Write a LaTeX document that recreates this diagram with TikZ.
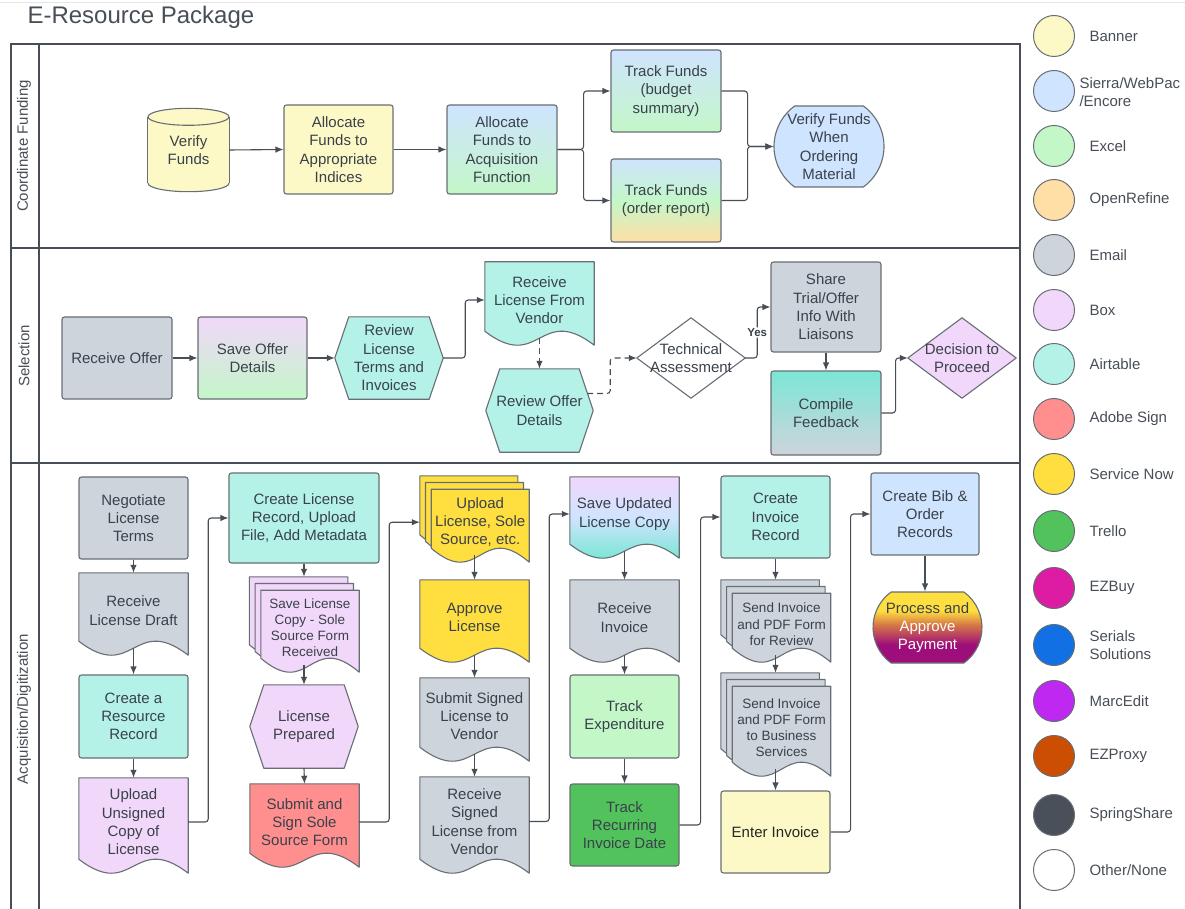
\documentclass[tikz,border=0pt]{standalone}
\usepackage{fontspec}
\setmainfont{Liberation Sans}
\usetikzlibrary{arrows.meta,calc,backgrounds,shapes.misc}

\definecolor{txt}{RGB}{58,65,74}
\definecolor{edge}{RGB}{104,110,116}
\definecolor{wire}{RGB}{72,78,86}
\definecolor{banner}{RGB}{252,249,199}
\definecolor{sierra}{RGB}{207,228,255}
\definecolor{excel}{RGB}{195,247,200}
\definecolor{openref}{RGB}{255,223,166}
\definecolor{email}{RGB}{206,212,219}
\definecolor{boxapp}{RGB}{241,215,250}
\definecolor{airtab}{RGB}{180,242,232}
\definecolor{adobe}{RGB}{255,143,143}
\definecolor{snow}{RGB}{255,223,64}
\definecolor{trello}{RGB}{82,194,92}
\definecolor{ezbuy}{RGB}{222,27,163}
\definecolor{serials}{RGB}{17,113,228}
\definecolor{marcedit}{RGB}{190,40,240}
\definecolor{ezproxy}{RGB}{204,78,2}
\definecolor{springsh}{RGB}{74,80,89}
\definecolor{teal2}{RGB}{124,230,214}
\definecolor{payor}{RGB}{214,120,70}
\definecolor{paymag}{RGB}{158,14,122}

% yellow to magenta for the payment step
\pgfdeclareverticalshading{paygrad}{100bp}{color(0bp)=(paymag); color(38bp)=(paymag); color(52bp)=(payor); color(62bp)=(snow); color(100bp)=(snow)}

% outline of a document page (node, dx, dy)
\newcommand\docpath[3]{($(#1.north west)+(#2,#3)$) -- ($(#1.north east)+(#2,#3)$) -- ($(#1.south east)+(#2,#3+7)$) .. controls ($(#1.south)+(#2,#3-35)$) and ($(#1.south)+(#2,#3+35)$) .. ($(#1.south west)+(#2,#3-7)$) -- cycle}
% outline of a hexagon
\newcommand\hexpath[1]{(#1.west) -- ($(#1.north west)+(14,0)$) -- ($(#1.north east)+(-14,0)$) -- (#1.east) -- ($(#1.south east)+(-14,0)$) -- ($(#1.south west)+(14,0)$) -- cycle}
% outline of a diamond
\newcommand\decpath[1]{(#1.west) -- (#1.north) -- (#1.east) -- (#1.south) -- cycle}

\tikzset{
  every node/.style={text=txt, font=\fontsize{15}{18.3}\selectfont, align=center},
  smalltxt/.style={font=\fontsize{13.5}{16.3}\selectfont},
  procbox/.style={draw=edge, line width=1.1pt, rounded corners=2.5pt, inner sep=2pt, minimum width=109, minimum height=82},
  docbox/.style={inner sep=0pt},
  hexbox/.style={inner sep=0pt},
  decbox/.style={inner sep=0pt, minimum width=108, minimum height=80},
  termbox/.style={draw=edge, line width=1.1pt, rounded rectangle, rounded rectangle arc length=108, inner sep=0pt},
  shapeline/.style={draw=edge, line width=1.1pt, line join=round},
  poolline/.style={draw=wire, line width=1.4pt},
  arr/.style={draw=wire, line width=1.1pt, rounded corners=3pt, -{Latex[length=8pt,width=6.5pt]}},
  darr/.style={arr, dash pattern=on 6pt off 4pt},
  yesbox/.style={fill=white, inner sep=1pt, font=\bfseries\fontsize{11.5}{13}\selectfont},
  lanetxt/.style={rotate=90, text=wire},
  legdot/.style={circle, draw=edge, line width=1pt, minimum size=41, inner sep=0pt},
  legtxt/.style={anchor=west, align=left, text=wire}
}

\begin{document}
\begin{tikzpicture}[x=1pt,y=1pt,yscale=-1]
\useasboundingbox (0,0) rectangle (1185,909);
\draw[black!10, line width=1pt] (0,3) -- (1185,3);

% title
\node[anchor=west, text=wire, font=\fontsize{24}{28}\selectfont] (title) at (24,17) {E-Resource Package};

% pool and lanes
\draw[poolline] (11,909) -- (11,44) -- (1020,44) -- (1020,909);
\draw[poolline] (39,44) -- (39,909);
\draw[poolline] (11,248) -- (1020,248);
\draw[poolline] (11,463) -- (1020,463);
\node[lanetxt] (lanecf) at (24,146) {Coordinate Funding};
\node[lanetxt] (lanesel) at (24,356) {Selection};
\node[lanetxt] (laneacq) at (24,709) {Acquisition/Digitization};

% Coordinate Funding
\node[inner sep=0pt, minimum width=81, minimum height=83] (verify) at (188.5,150) {Verify\\Funds};
\node[procbox, fill=banner, minimum height=89] (allocidx) at (338.5,149.5) {Allocate\\Funds to\\Appropriate\\Indices};
\node[procbox, top color=sierra, bottom color=excel, minimum width=110, minimum height=89] (allocacq) at (502,149.5) {Allocate\\Funds to\\Acquisition\\Function};
\node[procbox, top color=sierra, bottom color=excel, minimum width=110] (trackbud) at (666,91) {Track Funds\\(budget\\summary)};
\node[procbox, top color=sierra, bottom color=openref, middle color=excel, minimum width=110, minimum height=83] (trackord) at (666,200.5) {Track Funds\\(order report)};
\node[termbox, fill=sierra, minimum width=110, minimum height=81] (verifyord) at (829,146.5) {Verify Funds\\When\\Ordering\\Material};

\draw[arr] (verify.east) -- (allocidx.west);
\draw[arr] (allocidx.east) -- (allocacq.west);
\draw[arr] (allocacq.east) -- ++(26,0) |- (trackbud.west);
\draw[arr] (allocacq.east) -- ++(26,0) |- (trackord.west);
\draw[arr] (trackbud.east) -- ++(26,0) |- (verifyord.west);
\draw[arr] (trackord.east) -- ++(26,0) |- (verifyord.west);

% Selection
\node[procbox, fill=email, minimum width=110] (recoffer) at (117,358) {Receive Offer};
\node[procbox, top color=boxapp, bottom color=excel] (saveoffer) at (252.5,358) {Save Offer\\Details};
\node[hexbox, minimum width=108, minimum height=82] (reviewlic) at (389,358) {Review\\License\\Terms and\\Invoices};
\node[docbox, minimum width=109, minimum height=76] (reclic) at (539.5,300) {Receive\\License From\\Vendor};
\node[hexbox, minimum width=107, minimum height=83] (reviewoff) at (539.5,410.5) {Review Offer\\Details};
\node[decbox] (techass) at (691,358) {Technical\\Assessment};
\node[procbox, fill=email, minimum width=110, minimum height=90] (share) at (826,307) {Share\\Trial/Offer\\Info With\\Liaisons};
\node[procbox, top color=teal2, bottom color=email, minimum width=110, minimum height=84] (compile) at (826,413) {Compile\\Feedback};
\node[decbox] (decision) at (962,358) {Decision to\\Proceed};

\draw[arr] (recoffer.east) -- (saveoffer.west);
\draw[arr] (saveoffer.east) -- (reviewlic.west);
\draw[arr] (reviewlic.east) -- ++(22,0) |- (reclic.west);
\draw[darr] (reclic.south) -- (reviewoff.north);
\draw[darr] ($(reviewoff.east)+(-6,-17)$) -- ++(23,0) |- (techass.west);
\draw[arr] (techass.east) -- ++(12,0) |- node[pos=0.25, yesbox] {Yes} (share.west);
\draw[arr] (share.south) -- (compile.north);
\draw[arr] (compile.east) -- ++(14,0) |- (decision.west);

% Acquisition/Digitization
\node[procbox, fill=email] (negot) at (133.5,518) {Negotiate\\License\\Terms};
\node[docbox, minimum width=109, minimum height=75] (recdraft) at (133.5,610.5) {Receive\\License Draft};
\node[procbox, fill=airtab, minimum height=83] (createres) at (133.5,716.5) {Create a\\Resource\\Record};
\node[docbox, minimum width=109, minimum height=88] (uploadun) at (133.5,822) {Upload\\Unsigned\\Copy of\\License};

\node[procbox, fill=airtab, minimum width=150, minimum height=90] (createlic) at (304,518) {Create License\\Record, Upload\\File, Add Metadata};
\node[docbox, smalltxt, minimum width=98, minimum height=74.6] (savelic) at (310,627.7) {Save License\\Copy - Sole\\Source Form\\Received};
\node[hexbox, minimum width=108, minimum height=83] (licprep) at (304,726.5) {License\\Prepared};
\node[docbox, minimum width=109, minimum height=76] (submitsole) at (304.5,822) {Submit and\\Sign Sole\\Source Form};

\node[docbox, minimum width=97.6, minimum height=65.6] (uploadlic) at (480.2,522.2) {Upload\\License, Sole\\Source, etc.};
\node[docbox, minimum width=109, minimum height=75] (approve) at (474.5,617.5) {Approve\\License};
\node[docbox, minimum width=109, minimum height=76] (submitsig) at (474.5,716) {Submit Signed\\License to\\Vendor};
\node[docbox, minimum width=109, minimum height=89] (recsig) at (474.5,821.5) {Receive\\Signed\\License from\\Vendor};

\node[docbox, minimum width=109, minimum height=74] (saveupd) at (624.5,514) {Save Updated\\License Copy};
\node[docbox, minimum width=109, minimum height=75] (recinv) at (624.5,617.5) {Receive\\Invoice};
\node[procbox, fill=excel, minimum height=83] (trackexp) at (624.5,716.5) {Track\\Expenditure};
\node[procbox, fill=trello] (trackrec) at (624.5,825) {Track\\Recurring\\Invoice Date};

\node[procbox, fill=airtab] (createinv) at (775.5,517) {Create\\Invoice\\Record};
\node[docbox, smalltxt, minimum width=98.1, minimum height=61.6] (sendrev) at (781.5,624.2) {Send Invoice\\and PDF Form\\for Review};
\node[docbox, smalltxt, minimum width=98.1, minimum height=82.6] (sendbus) at (781.5,727.7) {Send Invoice\\and PDF Form\\to Business\\Services};
\node[procbox, fill=banner, text=black!85] (enter) at (775.5,832) {Enter Invoice};

\node[procbox, fill=sierra, minimum width=108] (createbib) at (925,514) {Create Bib \&\\Order\\Records};
\node[termbox, shading=paygrad, minimum width=109, minimum height=71] (payment) at (927.5,627.5) {Process and\\\textcolor{white}{Approve}\\\textcolor{white}{Payment}};

\draw[arr] (negot.south) -- (recdraft.north);
\draw[arr] (recdraft.south) -- (createres.north);
\draw[arr] (createres.south) -- (uploadun.north);
\draw[arr] (uploadun.east) -- ++(20,0) |- (createlic.west);
\draw[arr, shorten >=13.4pt] (createlic.south) -- (createlic.south |- savelic.north);
\draw[arr] (licprep.north |- savelic.south) -- (licprep.north);
\draw[arr] (licprep.south) -- (submitsole.north);
\draw[arr, shorten >=11.4pt] (submitsole.east) -- ++(30,0) |- (uploadlic.west);
\draw[arr] (approve.north |- uploadlic.south) -- (approve.north);
\draw[arr] (approve.south) -- (submitsig.north);
\draw[arr] (submitsig.south) -- (recsig.north);
\draw[arr] (recsig.east) -- ++(20,0) |- (saveupd.west);
\draw[arr] (saveupd.south) -- (recinv.north);
\draw[arr] (recinv.south) -- (trackexp.north);
\draw[arr] (trackexp.south) -- (trackrec.north);
\draw[arr] (trackrec.east) -- ++(21,0) |- (createinv.west);
\draw[arr, shorten >=13.4pt] (createinv.south) -- (createinv.south |- sendrev.north);
\draw[arr, shorten >=13.4pt] (createinv.south |- sendrev.south) -- (createinv.south |- sendbus.north);
\draw[arr] (enter.north |- sendbus.south) -- (enter.north);
\draw[arr] (enter.east) -- ++(20,0) |- (createbib.west);
\draw[arr] (createbib.south) -- (createbib.south |- payment.north);

% shapes behind the texts
\begin{scope}[on background layer]
  % cylinder
  \draw[shapeline, fill=banner] ($(verify.south)+(0,-8.5)$) ellipse [x radius=40.5, y radius=8.5];
  \fill[banner] ($(verify.north west)+(0,8.5)$) rectangle ($(verify.south east)+(0,-8.5)$);
  \draw[shapeline] ($(verify.north west)+(0,8.5)$) -- ($(verify.south west)+(0,-8.5)$);
  \draw[shapeline] ($(verify.north east)+(0,8.5)$) -- ($(verify.south east)+(0,-8.5)$);
  \draw[shapeline, fill=banner] ($(verify.north)+(0,8.5)$) ellipse [x radius=40.5, y radius=8.5];
  % documents
  \foreach \n/\c in {reclic/airtab, recdraft/email, uploadun/boxapp, submitsole/adobe, approve/snow, submitsig/email, recsig/email, recinv/email}
    \draw[shapeline, fill=\c] \docpath{\n}{0}{0};
  \begin{scope}
    \clip \docpath{saveupd}{0}{0};
    \shade[top color=boxapp, bottom color=teal2, middle color=sierra] (saveupd.north west) rectangle ($(saveupd.south east)+(0,7)$);
  \end{scope}
  \draw[shapeline] \docpath{saveupd}{0}{0};
  % stacked documents
  \foreach \n/\c in {savelic/boxapp, uploadlic/snow, sendrev/email, sendbus/email} {
    \draw[shapeline, fill=\c] \docpath{\n}{-11.4}{-13.4};
    \draw[shapeline, fill=\c] \docpath{\n}{-5.7}{-6.7};
    \draw[shapeline, fill=\c] \docpath{\n}{0}{0};
  }
  % hexagons
  \foreach \n/\c in {reviewlic/airtab, reviewoff/airtab, licprep/boxapp}
    \draw[shapeline, fill=\c] \hexpath{\n};
  % diamonds
  \draw[shapeline, fill=white] \decpath{techass};
  \draw[shapeline, fill=boxapp] \decpath{decision};
\end{scope}

% legend
\foreach \i/\y/\c/\t in {1/36/banner/Banner, 3/146/excel/Excel, 4/200/openref/OpenRefine, 5/255/email/Email, 6/310/boxapp/Box, 7/364/airtab/Airtable, 8/419/adobe/Adobe Sign, 9/474/snow/Service Now, 10/531/trello/Trello, 11/588/ezbuy/EZBuy, 12/645/serials/Serials\\Solutions, 13/701/marcedit/MarcEdit, 14/756/ezproxy/EZProxy, 15/815/springsh/SpringShare} {
  \node[legdot, fill=\c] (dot\i) at (1054,\y) {};
  \node[legtxt] (key\i) at (1086,\y) {\t};
}
\node[legdot, fill=sierra] (dot2) at (1054,91) {};
\node[legtxt] (key2) at (1076,92) {Sierra/WebPac\\/Encore};
\node[legdot, fill=white] (dot16) at (1054,870) {};
\node[legtxt] (key16) at (1086,870) {Other/None};
\end{tikzpicture}
\end{document}
